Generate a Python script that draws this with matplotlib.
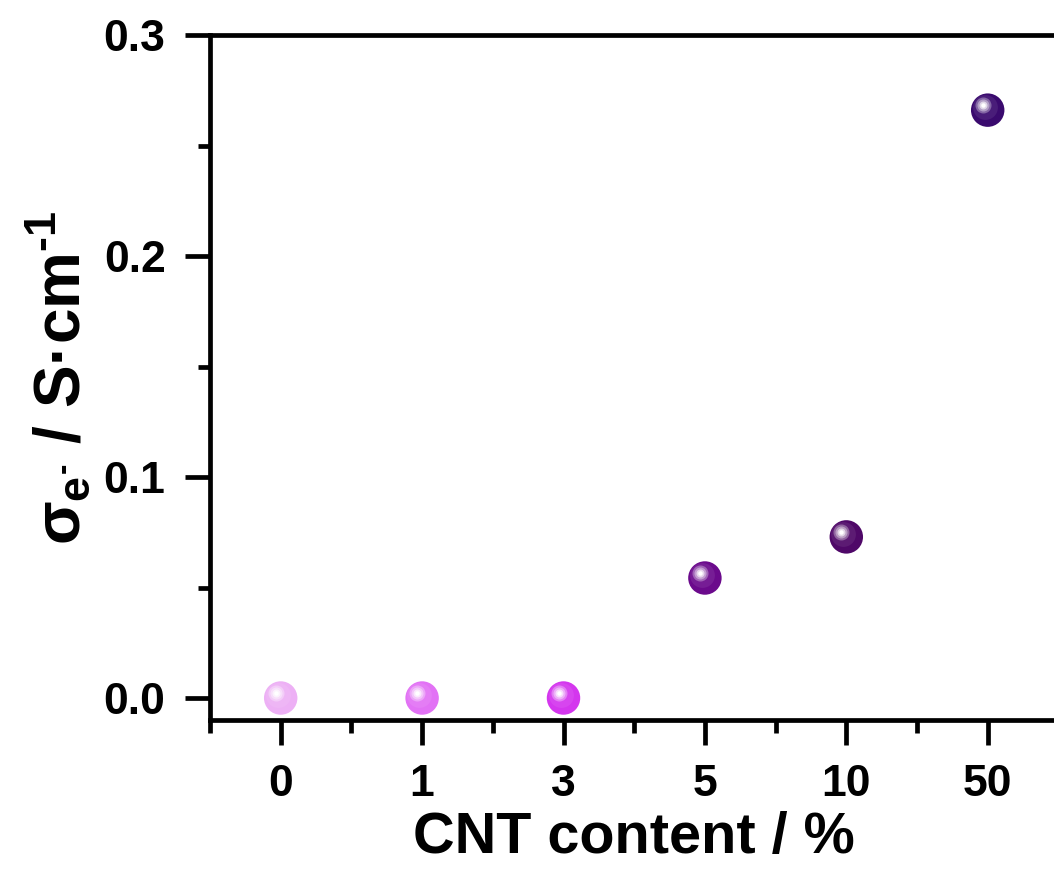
import matplotlib
matplotlib.use("Agg")
import matplotlib.pyplot as plt
from matplotlib.transforms import ScaledTranslation

plt.rcParams['font.family'] = ['Liberation Sans', 'DejaVu Sans']
plt.rcParams['font.weight'] = 'bold'
plt.rcParams['mathtext.fontset'] = 'custom'
plt.rcParams['mathtext.rm'] = 'Liberation Sans:bold'
plt.rcParams['mathtext.it'] = 'Liberation Sans:bold'
plt.rcParams['mathtext.bf'] = 'Liberation Sans:bold'
plt.rcParams['mathtext.sf'] = 'Liberation Sans:bold'

# data
categories = ['0', '1', '3', '5', '10', '50']
conductivity = [0.0, 0.0, 0.0, 0.0543, 0.0729, 0.266]
colors = ['#EDB0F5', '#E272F5', '#D436EE', '#6B0A8C', '#4F0868', '#3A0A6E']
y_ticks = [0.0, 0.1, 0.2, 0.3]
y_ticklabels = ['0.0', '0.1', '0.2', '0.3']

W, H = 1054, 885
fig = plt.figure(figsize=(W / 100, H / 100), dpi=100)
ax = fig.add_axes([210 / W, 165 / H, 848.4 / W, 685 / H])

xpos = list(range(len(categories)))

ms = 580
ax.scatter(xpos, conductivity, s=ms, c=colors, zorder=3, linewidths=0)

def shifted(dx_px, dy_px):
    return ax.transData + ScaledTranslation(dx_px / 100, dy_px / 100, fig.dpi_scale_trans)

# soft lighter overlay toward upper-left (sphere shading)
ax.scatter(xpos, conductivity, s=ms * 0.55, c='white', alpha=0.08, zorder=4,
           linewidths=0, transform=shifted(-3, 3))
# highlight layers
for size_px, alpha in [(16, 0.32), (12, 0.38), (8, 0.6), (4.5, 1.0)]:
    ax.scatter(xpos, conductivity, s=(size_px * 0.72) ** 2, c='white', alpha=alpha,
               zorder=5, linewidths=0, transform=shifted(-5, 5))

ax.set_xlim(-0.5, 5.5)
ax.set_ylim(-0.00995, 0.3)
ax.set_xticks(xpos)
ax.set_xticklabels(categories)
ax.set_xticks([p - 0.5 for p in xpos] + [5.5], minor=True)
ax.set_yticks(y_ticks)
ax.set_yticklabels(y_ticklabels)
ax.set_yticks([0.05, 0.15, 0.25], minor=True)

for s in ax.spines.values():
    s.set_linewidth(3.4)
ax.tick_params(axis='both', which='major', direction='out', length=18, width=3.4,
               labelsize=32, pad=14)
ax.tick_params(axis='both', which='minor', direction='out', length=9, width=3.4)
ax.tick_params(axis='x', which='major', pad=14)

ax.set_xlabel('CNT content / %', fontsize=41.5, fontweight='bold', labelpad=4)
ax.set_ylabel('$\\sigma_{e^{\u2010}}$ / S·cm$^{\u20101}$', fontsize=46, fontweight='bold',
              labelpad=8)

fig.savefig('out.png', dpi=100)
